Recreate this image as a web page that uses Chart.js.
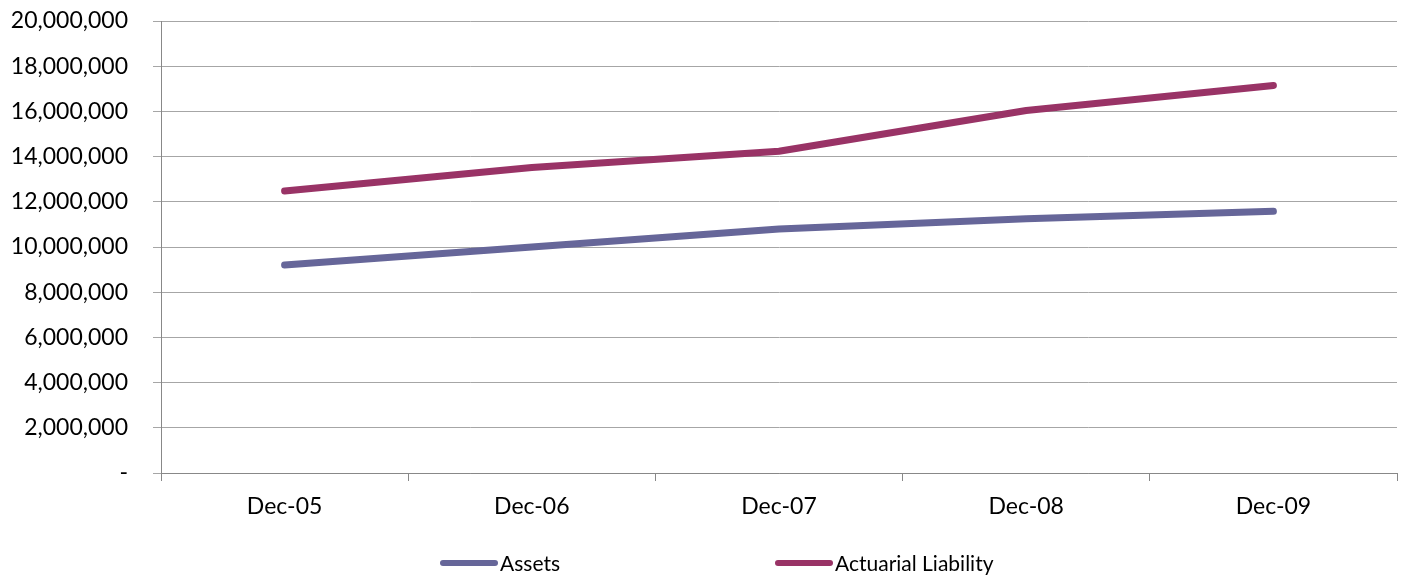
<!DOCTYPE html>
<html>

<head>
    <title>Assets vs Actuarial Liability</title>
    <script src="https://cdn.jsdelivr.net/npm/chart.js"></script>
    <style>
        body {
            margin: 0;
            background: #ffffff;
        }

        .wrap {
            position: relative;
            width: 1401px;
            height: 575px;
        }

        .legend-item {
            position: absolute;
            top: 550px;
            display: flex;
            align-items: center;
            font-family: Lato, sans-serif;
            font-size: 21px;
            color: #000;
        }

        .legend-line {
            display: inline-block;
            width: 58px;
            height: 6px;
            border-radius: 3px;
            margin-right: 2px;
        }
    </style>
</head>

<body>
    <div class="wrap">
        <canvas id="pensionChart" width="1401" height="575"></canvas>
        <div id="legend"></div>
    </div>

    <script>
        var periods = ['Dec-05', 'Dec-06', 'Dec-07', 'Dec-08', 'Dec-09'];
        var assets = [9200000, 10000000, 10800000, 11250000, 11580000];
        var liability = [12480000, 13520000, 14240000, 16040000, 17150000];
        var yTicks = [0, 2000000, 4000000, 6000000, 8000000, 10000000, 12000000, 14000000, 16000000, 18000000, 20000000];

        var legendLeft = [440, 775];

        var ctx = document.getElementById('pensionChart').getContext('2d');
        var chart = new Chart(ctx, {
            type: 'line',
            data: {
                labels: periods,
                datasets: [{
                    label: 'Assets',
                    data: assets,
                    borderColor: '#666699',
                    backgroundColor: '#666699',
                    borderWidth: 7,
                    borderCapStyle: 'round',
                    borderJoinStyle: 'round',
                    pointRadius: 0,
                    tension: 0
                }, {
                    label: 'Actuarial Liability',
                    data: liability,
                    borderColor: '#993366',
                    backgroundColor: '#993366',
                    borderWidth: 7,
                    borderCapStyle: 'round',
                    borderJoinStyle: 'round',
                    pointRadius: 0,
                    tension: 0
                }]
            },
            options: {
                responsive: false,
                animation: false,
                layout: {
                    padding: { top: 21, right: 4, left: 0, bottom: 0 }
                },
                plugins: {
                    legend: { display: false },
                    tooltip: { enabled: false }
                },
                scales: {
                    x: {
                        offset: true,
                        border: { color: '#888888', width: 1 },
                        grid: {
                            offset: true,
                            drawOnChartArea: false,
                            drawTicks: true,
                            tickLength: 8,
                            color: '#888888'
                        },
                        ticks: {
                            color: '#000',
                            font: { family: 'Lato', size: 23 },
                            padding: 12,
                            maxRotation: 0
                        },
                        afterFit: function (scale) {
                            scale.height = 102;
                        }
                    },
                    y: {
                        min: 0,
                        max: 20000000,
                        border: { color: '#888888', width: 1 },
                        grid: {
                            color: '#a6a6a6',
                            tickLength: 8
                        },
                        afterBuildTicks: function (scale) {
                            scale.ticks = yTicks.map(function (v) { return { value: v }; });
                        },
                        ticks: {
                            color: '#000',
                            font: { family: 'Lato', size: 23 },
                            padding: 25,
                            callback: function (v) {
                                return v === 0 ? '-' : v.toLocaleString('en-US');
                            }
                        },
                        afterFit: function (scale) {
                            scale.width = 161;
                            // tick padding would otherwise push the plot top down
                            scale.paddingTop = 0;
                            scale.paddingBottom = 0;
                        }
                    }
                }
            }
        });

        // html legend, spread out like the original
        var legend = document.getElementById('legend');
        chart.data.datasets.forEach(function (ds, i) {
            var item = document.createElement('div');
            item.className = 'legend-item';
            item.style.left = legendLeft[i] + 'px';
            var line = document.createElement('span');
            line.className = 'legend-line';
            line.style.background = ds.borderColor;
            item.appendChild(line);
            item.appendChild(document.createTextNode(ds.label));
            legend.appendChild(item);
        });
    </script>
</body>

</html>
